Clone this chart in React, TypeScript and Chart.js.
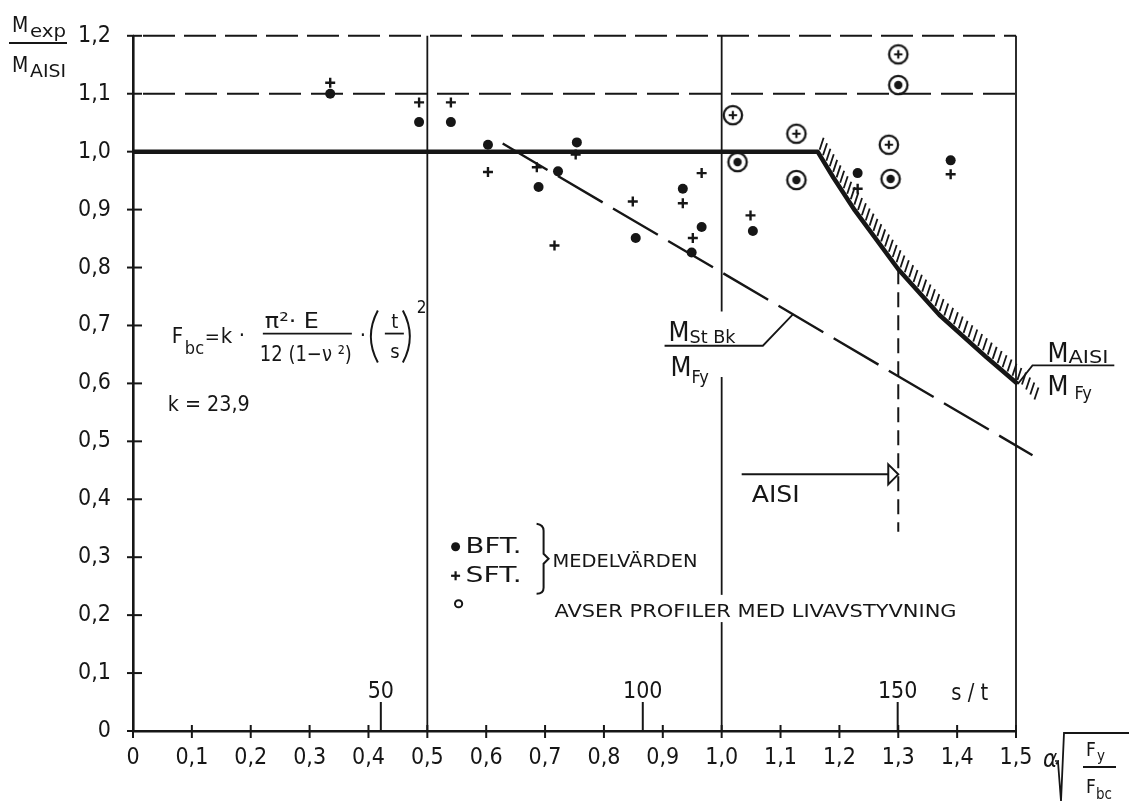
import React, { useEffect, useRef } from 'react';
import { Chart, registerables } from 'chart.js';

Chart.register(...registerables);

const FONT = '"DejaVu Sans Condensed", "Liberation Sans Narrow", "DejaVu Sans", sans-serif';
const INK = '#161616';

// ---------------- data ----------------
// axis ranges
const alphaRange = [0, 1.5];
const ratioRange = [0, 1.2];

// BFT (filled dots), SFT (crosses) – mean values
const bftAlpha = [0.335, 0.486, 0.54, 0.603, 0.689, 0.722, 0.754, 0.854, 0.934, 0.949, 0.966, 1.053, 1.231, 1.389];
const bftRatio = [1.1, 1.051, 1.051, 1.012, 0.939, 0.966, 1.016, 0.851, 0.936, 0.826, 0.87, 0.863, 0.963, 0.985];
const sftAlpha = [0.335, 0.486, 0.54, 0.603, 0.686, 0.716, 0.752, 0.849, 0.934, 0.951, 0.966, 1.049, 1.231, 1.389];
const sftRatio = [1.119, 1.085, 1.085, 0.965, 0.973, 0.838, 0.995, 0.914, 0.911, 0.851, 0.963, 0.89, 0.936, 0.961];

// profiles with web stiffener (circled)
const bftStiffAlpha = [1.027, 1.127, 1.287, 1.3];
const bftStiffRatio = [0.982, 0.951, 0.953, 1.115];
const sftStiffAlpha = [1.019, 1.127, 1.284, 1.3];
const sftStiffRatio = [1.063, 1.031, 1.012, 1.168];

// M_AISI / M_Fy curve
const aisiAlpha = [0, 1.163, 1.19, 1.226, 1.3, 1.37, 1.45, 1.503, 1.531];
const aisiRatio = [1.0, 1.0, 0.955, 0.899, 0.797, 0.718, 0.645, 0.599, 0.565];

// M_StBk / M_Fy line
const stBkAlpha = [0.628, 1.528];
const stBkRatio = [1.014, 0.476];

// dashed reference levels
const limitLevels = [1.1, 1.2];

// AISI limit (vertical dashed) and arrow
const aisiLimitAlpha = [1.3, 1.3];
const aisiLimitRatio = [0.797, 0.344];
const arrowAlpha = [1.034, 1.3];
const arrowRatio = 0.443;

// secondary scale s/t
const slenderTicks = [50, 100, 150];
const slenderAlpha = [0.421, 0.866, 1.299];

// vertical guide lines (alpha, spans of ratio)
const guideAlpha = [0.5, 1.0, 1.5];
const guideSpans: number[][][] = [
  [[0, 1.2]],
  [[0.724, 1.2], [0.235, 0.611], [0, 0.188]],
  [[0, 1.2]],
];

// --------------------------------------------------------------
const pts = (xs: number[], ys: number[]) => xs.map((x, i) => ({ x, y: ys[i] }));
const fmt = (v: number) => (Math.abs(v) < 1e-9 ? '0' : Number(v).toFixed(1).replace('.', ','));

function ringMarker(inner: 'dot' | 'plus'): HTMLCanvasElement {
  const c = document.createElement('canvas');
  c.width = 26;
  c.height = 26;
  const g = c.getContext('2d')!;
  g.strokeStyle = INK;
  g.fillStyle = INK;
  g.lineWidth = 2.3;
  g.beginPath();
  g.arc(13, 13, 9.2, 0, Math.PI * 2);
  g.stroke();
  if (inner === 'dot') {
    g.beginPath();
    g.arc(13, 13, 4.2, 0, Math.PI * 2);
    g.fill();
  } else {
    g.lineWidth = 2.2;
    g.beginPath();
    g.moveTo(8.8, 13);
    g.lineTo(17.2, 13);
    g.moveTo(13, 8.8);
    g.lineTo(13, 17.2);
    g.stroke();
  }
  return c;
}

function put(
  ctx: CanvasRenderingContext2D,
  s: string,
  x: number,
  y: number,
  size: number,
  opts: { align?: 'left' | 'center' | 'right'; w?: number; italic?: boolean } = {}
) {
  ctx.save();
  ctx.font = `${opts.italic ? 'italic ' : ''}${size}px ${FONT}`;
  ctx.fillStyle = INK;
  ctx.textBaseline = 'alphabetic';
  ctx.textAlign = 'left';
  const m = ctx.measureText(s).width;
  const sx = opts.w ? opts.w / m : 1;
  const wf = m * sx;
  let left = x;
  if (opts.align === 'center') left = x - wf / 2;
  else if (opts.align === 'right') left = x - wf;
  ctx.translate(left, y);
  ctx.scale(sx, 1);
  ctx.fillText(s, 0, 0);
  ctx.restore();
}

function line(ctx: CanvasRenderingContext2D, coords: number[][], lw: number, dash: number[] = []) {
  ctx.save();
  ctx.strokeStyle = INK;
  ctx.lineWidth = lw;
  ctx.setLineDash(dash);
  ctx.beginPath();
  coords.forEach(([x, y], i) => (i === 0 ? ctx.moveTo(x, y) : ctx.lineTo(x, y)));
  ctx.stroke();
  ctx.restore();
}

const overlay = {
  id: 'overlay',
  beforeDatasetsDraw(chart: any) {
    const ctx: CanvasRenderingContext2D = chart.ctx;
    const xs = chart.scales.x;
    const ys = chart.scales.y;
    const X = (v: number) => xs.getPixelForValue(v);
    const Y = (v: number) => ys.getPixelForValue(v);

    // vertical guides
    guideAlpha.forEach((a, i) => {
      guideSpans[i].forEach(([lo, hi]) => line(ctx, [[X(a), Y(lo)], [X(a), Y(hi)]], 1.8));
    });

    // tick marks crossing the axes
    const x0 = X(alphaRange[0]);
    const y0 = Y(ratioRange[0]);
    for (let k = 0; k <= 12; k++) {
      const yy = Y(k / 10);
      line(ctx, [[x0 - 6, yy], [x0 + 9, yy]], 2);
    }
    for (let k = 0; k <= 15; k++) {
      const xx = X(k / 10);
      line(ctx, [[xx, y0 - 6], [xx, y0 + 7]], 2);
    }

    // secondary s/t scale
    slenderTicks.forEach((t, i) => {
      const xx = X(slenderAlpha[i]);
      line(ctx, [[xx, y0], [xx, y0 - 29]], 2);
      put(ctx, String(t), xx, y0 - 33, 23, { align: 'center' });
    });
    put(ctx, 's / t', X(1.39), y0 - 31, 23, { w: 37 });
  },
  afterDatasetsDraw(chart: any) {
    const ctx: CanvasRenderingContext2D = chart.ctx;
    const xs = chart.scales.x;
    const ys = chart.scales.y;
    const X = (v: number) => xs.getPixelForValue(v);
    const Y = (v: number) => ys.getPixelForValue(v);

    // hatching on the AISI curve
    const P = aisiAlpha.map((a, i) => [X(a), Y(aisiRatio[i])]);
    let carry = 0;
    const step = 6.5;
    ctx.save();
    ctx.strokeStyle = INK;
    ctx.lineWidth = 1.8;
    for (let k = 1; k < P.length - 1; k++) {
      const [ax, ay] = P[k];
      const [bx, by] = P[k + 1];
      const L = Math.hypot(bx - ax, by - ay);
      let pos = carry;
      while (pos <= L) {
        const px = ax + ((bx - ax) * pos) / L;
        const py = ay + ((by - ay) * pos) / L;
        ctx.beginPath();
        ctx.moveTo(px + 2, py - 2);
        ctx.lineTo(px + 6, py - 14);
        ctx.stroke();
        pos += step;
      }
      carry = pos - L;
    }
    ctx.restore();

    // AISI arrow
    const ay = Y(arrowRatio);
    const tip = X(arrowAlpha[1]);
    line(ctx, [[X(arrowAlpha[0]), ay], [tip - 10, ay]], 2);
    ctx.save();
    ctx.fillStyle = '#fff';
    ctx.strokeStyle = INK;
    ctx.lineWidth = 2;
    ctx.beginPath();
    ctx.moveTo(tip - 10, ay - 10);
    ctx.lineTo(tip, ay);
    ctx.lineTo(tip - 10, ay + 10);
    ctx.closePath();
    ctx.fill();
    ctx.stroke();
    ctx.restore();
    put(ctx, 'AISI', X(1.051), Y(0.396), 23, { w: 48 });

    // M_StBk / M_Fy label
    {
      const bl = X(0.903), br = X(1.07), by = Y(0.665);
      line(ctx, [[bl, by], [br, by], [X(1.121), Y(0.719)]], 1.8);
      put(ctx, 'M', bl + 4, by - 5, 27);
      put(ctx, 'St Bk', bl + 25, by - 3, 18, { w: 46 });
      put(ctx, 'M', bl + 6, by + 30, 27);
      put(ctx, 'Fy', bl + 27, by + 37, 18);
    }

    // M_AISI / M_Fy label
    {
      const bl = X(1.528), br = X(1.667), by = Y(0.631);
      line(ctx, [[X(1.503), Y(0.599)], [bl, by], [br, by]], 1.8);
      put(ctx, 'M', bl + 15, by - 3, 27);
      put(ctx, 'AISI', bl + 36, by - 2, 18, { w: 40 });
      put(ctx, 'M', bl + 15, by + 30, 27);
      put(ctx, 'Fy', bl + 42, by + 34, 18);
    }

    // formula
    {
      const fx = X(0.066), fy = Y(0.686);
      put(ctx, 'F', fx, fy + 9, 22);
      put(ctx, 'bc', fx + 13, fy + 20, 18);
      put(ctx, '=', fx + 33, fy + 9, 20);
      put(ctx, 'k', fx + 49, fy + 9, 22);
      put(ctx, '·', fx + 67, fy + 8, 22);
      put(ctx, 'π²· E', fx + 93, fy - 6, 21, { w: 54 });
      line(ctx, [[fx + 91, fy], [fx + 180, fy]], 1.8);
      put(ctx, '12 (1−ν ²)', fx + 88, fy + 27, 21, { w: 92 });
      put(ctx, '·', fx + 188, fy + 8, 22);
      // parentheses
      ctx.save();
      ctx.strokeStyle = INK;
      ctx.lineWidth = 2;
      ctx.beginPath();
      ctx.moveTo(fx + 206, fy - 23);
      ctx.quadraticCurveTo(fx + 192, fy + 3, fx + 206, fy + 29);
      ctx.moveTo(fx + 231, fy - 23);
      ctx.quadraticCurveTo(fx + 245, fy + 3, fx + 231, fy + 29);
      ctx.stroke();
      ctx.restore();
      put(ctx, 't', fx + 223, fy - 6, 20, { align: 'center' });
      line(ctx, [[fx + 213, fy], [fx + 232, fy]], 1.8);
      put(ctx, 's', fx + 223, fy + 24, 20, { align: 'center' });
      put(ctx, '2', fx + 245, fy - 21, 17);
    }
    put(ctx, 'k = 23,9', X(0.059), Y(0.552), 21, { w: 82 });

    // legend
    {
      const lx = X(0.548), ly = Y(0.318);
      ctx.save();
      ctx.fillStyle = INK;
      ctx.beginPath();
      ctx.arc(lx, ly, 4.5, 0, Math.PI * 2);
      ctx.fill();
      ctx.restore();
      put(ctx, 'BFT.', lx + 10, ly + 6, 22, { w: 56 });
      line(ctx, [[lx - 4.5, ly + 29], [lx + 4.5, ly + 29]], 2.2);
      line(ctx, [[lx, ly + 24.5], [lx, ly + 33.5]], 2.2);
      put(ctx, 'SFT.', lx + 10, ly + 35, 22, { w: 56 });
      ctx.save();
      ctx.strokeStyle = INK;
      ctx.lineWidth = 2;
      ctx.beginPath();
      ctx.arc(lx + 3, ly + 57, 3.6, 0, Math.PI * 2);
      ctx.stroke();
      ctx.restore();
      // brace
      ctx.save();
      ctx.strokeStyle = INK;
      ctx.lineWidth = 2;
      ctx.beginPath();
      ctx.moveTo(lx + 81, ly - 23);
      ctx.quadraticCurveTo(lx + 88, ly - 22, lx + 88, ly - 16);
      ctx.lineTo(lx + 88, ly + 7);
      ctx.lineTo(lx + 93, ly + 12);
      ctx.lineTo(lx + 88, ly + 17);
      ctx.lineTo(lx + 88, ly + 41);
      ctx.quadraticCurveTo(lx + 88, ly + 47, lx + 81, ly + 47);
      ctx.stroke();
      ctx.restore();
      put(ctx, 'MEDELVÄRDEN', lx + 97, ly + 20, 18, { w: 145 });
      put(ctx, 'AVSER PROFILER MED LIVAVSTYVNING', lx + 99, ly + 70, 18, { w: 402 });
    }

    // y-axis title
    put(ctx, 'M', 12, 32, 21);
    put(ctx, 'exp', 30, 37, 17, { w: 36 });
    line(ctx, [[9, 43], [67, 43]], 2);
    put(ctx, 'M', 12, 72, 21);
    put(ctx, 'AISI', 30, 77, 17, { w: 36 });

    // x-axis title  alpha = sqrt(Fy / Fbc)
    {
      const ox = X(alphaRange[1]);
      const oy = Y(ratioRange[0]);
      put(ctx, 'α', ox + 27, oy + 36, 24, { italic: true });
      line(ctx, [[ox + 39, oy + 30], [ox + 43, oy + 30]], 1.5);
      line(ctx, [[ox + 40, oy + 33], [ox + 42, oy + 31], [ox + 45, oy + 70], [ox + 48, oy + 2], [ox + 113, oy + 2]], 1.8);
      put(ctx, 'F', ox + 70, oy + 25, 19);
      put(ctx, 'y', ox + 81, oy + 30, 15);
      line(ctx, [[ox + 67, oy + 36], [ox + 100, oy + 36]], 1.8);
      put(ctx, 'F', ox + 70, oy + 62, 19);
      put(ctx, 'bc', ox + 80, oy + 68, 15);
    }
  },
};

export default function App() {
  const ref = useRef<HTMLCanvasElement | null>(null);

  useEffect(() => {
    if (!ref.current) return;
    const ringDot = ringMarker('dot');
    const ringPlus = ringMarker('plus');

    const chart = new Chart(ref.current, {
      type: 'scatter',
      data: {
        datasets: [
          {
            label: 'BFT',
            data: pts(bftAlpha, bftRatio),
            pointStyle: 'circle',
            pointRadius: 5,
            pointBackgroundColor: INK,
            pointBorderWidth: 0,
            borderColor: INK,
          },
          {
            label: 'SFT',
            data: pts(sftAlpha, sftRatio),
            pointStyle: 'cross',
            pointRadius: 5,
            pointBorderWidth: 2.4,
            pointBorderColor: INK,
            borderColor: INK,
          },
          {
            label: 'BFT livavstyvning',
            data: pts(bftStiffAlpha, bftStiffRatio),
            pointStyle: ringDot as any,
            pointRadius: 10,
          },
          {
            label: 'SFT livavstyvning',
            data: pts(sftStiffAlpha, sftStiffRatio),
            pointStyle: ringPlus as any,
            pointRadius: 10,
          },
          {
            label: 'M_AISI / M_Fy',
            data: pts(aisiAlpha, aisiRatio),
            showLine: true,
            borderColor: INK,
            borderWidth: 4.5,
            pointRadius: 0,
            borderJoinStyle: 'round',
            clip: false,
          } as any,
          {
            label: 'M_StBk / M_Fy',
            data: pts(stBkAlpha, stBkRatio),
            showLine: true,
            borderColor: INK,
            borderWidth: 2.4,
            borderDash: [52, 12],
            pointRadius: 0,
            clip: false,
          } as any,
          ...limitLevels.map(
            (lvl, i) =>
              ({
                label: 'level ' + lvl,
                data: pts(alphaRange, [lvl, lvl]),
                showLine: true,
                borderColor: INK,
                borderWidth: 2,
                borderDash: i === 0 ? [32, 10] : [32, 9],
                borderDashOffset: -10,
                pointRadius: 0,
                clip: false,
              } as any)
          ),
          {
            label: 'AISI limit',
            data: pts(aisiLimitAlpha, aisiLimitRatio),
            showLine: true,
            borderColor: INK,
            borderWidth: 2,
            borderDash: [15, 8],
            pointRadius: 0,
            clip: false,
          } as any,
        ],
      },
      options: {
        animation: false,
        responsive: false,
        devicePixelRatio: 1,
        events: [],
        layout: { padding: { top: 22, right: 113, left: 0, bottom: 0 } },
        plugins: { legend: { display: false }, tooltip: { enabled: false } },
        scales: {
          x: {
            type: 'linear',
            min: alphaRange[0],
            max: alphaRange[1],
            afterFit: (s: any) => {
              s.height = 71;
            },
            ticks: {
              stepSize: 0.1,
              autoSkip: false,
              maxRotation: 0,
              padding: 13,
              color: INK,
              font: { family: FONT, size: 23 },
              callback: (v: any) => fmt(Number(v)),
            },
            grid: { display: true, drawOnChartArea: false, drawTicks: false },
            border: { display: true, width: 2.6, color: INK },
          },
          y: {
            type: 'linear',
            min: ratioRange[0],
            max: ratioRange[1],
            afterFit: (s: any) => {
              s.width = 133;
            },
            ticks: {
              stepSize: 0.1,
              autoSkip: false,
              padding: 22,
              color: INK,
              font: { family: FONT, size: 23 },
              callback: (v: any) => fmt(Number(v)),
            },
            grid: { display: true, drawOnChartArea: false, drawTicks: false },
            border: { display: true, width: 2.6, color: INK },
          },
        },
      },
      plugins: [overlay],
    } as any);

    return () => chart.destroy();
  }, []);

  return (
    <div style={{ position: 'absolute', left: 0, top: 0, width: 1129, height: 802, background: '#fff' }}>
      <canvas ref={ref} width={1129} height={802} style={{ display: 'block', width: 1129, height: 802 }} />
    </div>
  );
}
